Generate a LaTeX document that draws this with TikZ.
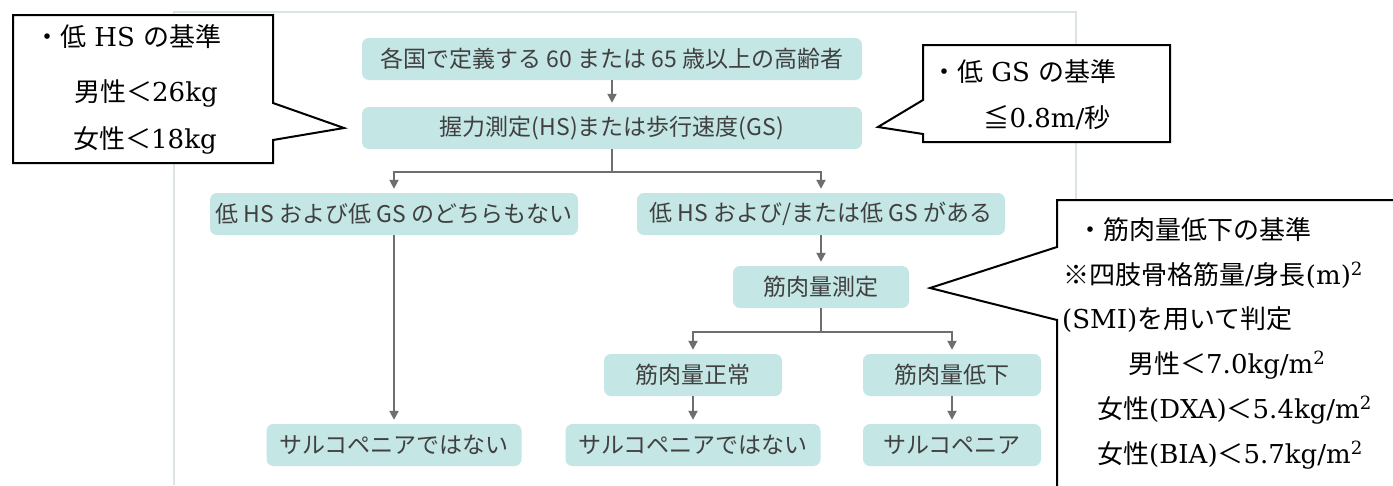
\documentclass[tikz,border=0pt]{standalone}
\usepackage{fontspec}
\setmainfont{DejaVu Serif}
\newfontfamily\jp{Noto Sans CJK JP}
\usetikzlibrary{arrows.meta}
\definecolor{boxc}{HTML}{C4E6E5}
\definecolor{txt}{HTML}{404040}
\definecolor{arrc}{HTML}{6E6E6E}
\definecolor{framec}{HTML}{DCE3E3}
\tikzset{
  box/.style={fill=boxc, rounded corners=7pt, text=txt, font=\jp\fontsize{23}{27}\selectfont, minimum height=42pt, inner sep=0pt},
  arr/.style={draw=arrc, line width=2pt, -{Triangle[width=9pt,length=9pt]}, shorten >=4pt},
  ln/.style={draw=arrc, line width=2pt},
  callout/.style={draw=black, line width=2pt, fill=white},
  ctext/.style={font=\fontsize{26}{30}\selectfont, inner sep=0pt, anchor=west},
}
\begin{document}
\begin{tikzpicture}[x=1pt,y=-1pt]
\useasboundingbox (0,0) rectangle (1393,485);
\fill[white] (0,0) rectangle (1393,485);
% frame
\draw[framec, line width=1.5pt] (174,485) -- (174,12) -- (1076,12) -- (1076,485);
% flow nodes
\node[box, minimum width=500pt] (n1) at (612,59) {各国で定義する 60 または 65 歳以上の高齢者};
\node[box, minimum width=500pt] (n2) at (612,128) {握力測定(HS)または歩行速度(GS)};
\node[box, minimum width=368pt] (n3) at (394,214) {低 HS および低 GS のどちらもない};
\node[box, minimum width=368pt] (n4) at (821,214) {低 HS および/または低 GS がある};
\node[box, minimum width=176pt] (n5) at (821,287) {筋肉量測定};
\node[box, minimum width=178pt] (n6) at (693,375) {筋肉量正常};
\node[box, minimum width=178pt] (n7) at (952,375) {筋肉量低下};
\node[box, minimum width=255pt] (n8) at (394,445) {サルコペニアではない};
\node[box, minimum width=255pt] (n9) at (693,445) {サルコペニアではない};
\node[box, minimum width=178pt] (n10) at (952,445) {サルコペニア};
% connectors
\coordinate (j1) at (612,172);
\coordinate (j2) at (821,332);
\draw[arr] (n1.south) -- (n2.north);
\draw[ln] (n2.south) -- (j1);
\draw[arr] (j1) -| (n3.north);
\draw[arr] (j1) -| (n4.north);
\draw[arr] (n3.south) -- (n8.north);
\draw[arr] (n4.south) -- (n5.north);
\draw[ln] (n5.south) -- (j2);
\draw[arr] (j2) -| (n6.north);
\draw[arr] (j2) -| (n7.north);
\draw[arr] (n6.south) -- (n9.north);
\draw[arr] (n7.south) -- (n10.north);
% left callout
\draw[callout] (13,15) -- (273,15) -- (273,103) -- (344,128) -- (273,140) -- (273,163) -- (13,163) -- cycle;
\node[ctext] (l1) at (34,37) {{\jp ・低}\ HS\ {\jp の基準}};
\node[ctext] (l2) at (74,93) {{\jp 男性＜}26kg};
\node[ctext] (l3) at (73,140) {{\jp 女性＜}18kg};
% low GS callout
\draw[callout] (923,45) -- (1170,45) -- (1170,142) -- (923,142) -- (923,134) -- (878,127) -- (923,100) -- cycle;
\node[ctext] (g1) at (931,72) {{\jp ・低}\ GS\ {\jp の基準}};
\node[ctext, anchor=center] (g2) at (1047,118) {{\jp ≦}0.8m/{\jp 秒}};
% right callout
\fill[white] (1393,200) -- (1057,200) -- (1057,247) -- (930,288) -- (1057,320) -- (1057,485) -- (1393,485) -- cycle;
\draw[black, line width=2pt] (1393,200) -- (1057,200) -- (1057,247) -- (930,288) -- (1057,320) -- (1057,486);
\node[ctext] (r1) at (1077,230) {{\jp ・筋肉量低下の基準}};
\node[ctext] (r2) at (1063,275) {{\jp ※四肢骨格筋量}/{\jp 身長}(m)\textsuperscript{2}};
\node[ctext] (r3) at (1062,320) {(SMI){\jp を用いて判定}};
\node[ctext] (r4) at (1128,365) {{\jp 男性＜}7.0kg/m\textsuperscript{2}};
\node[ctext] (r5) at (1097,410) {{\jp 女性}(DXA){\jp ＜}5.4kg/m\textsuperscript{2}};
\node[ctext] (r6) at (1097,455) {{\jp 女性}(BIA){\jp ＜}5.7kg/m\textsuperscript{2}};
\end{tikzpicture}
\end{document}
